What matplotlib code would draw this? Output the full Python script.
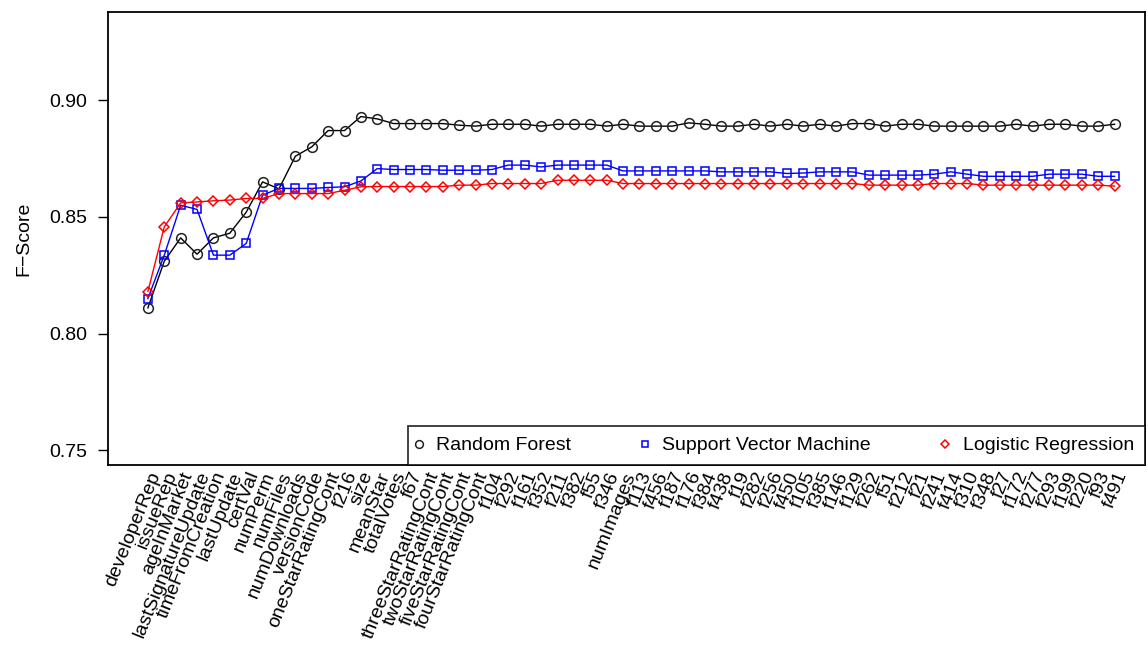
import matplotlib
matplotlib.use('Agg')
import matplotlib.pyplot as plt

plt.rcParams['font.family'] = ['Liberation Sans', 'DejaVu Sans']

# feature names (x axis, in order of addition)
features = ['developerRep', 'issueRep', 'ageInMarket', 'lastSignatureUpdate', 'timeFromCreation',
            'lastUpdate', 'certVal', 'numPerm', 'numFiles', 'numDownloads', 'versionCode',
            'oneStarRatingCont', 'f216', 'size', 'meanStar', 'totalVotes', 'f67',
            'threeStarRatingCont', 'twoStarRatingCont', 'fiveStarRatingCont', 'fourStarRatingCont',
            'f104', 'f292', 'f161', 'f352', 'f211', 'f382', 'f55', 'f346', 'numImages',
            'f113', 'f456', 'f187', 'f176', 'f384', 'f438', 'f19', 'f282', 'f256', 'f450',
            'f105', 'f385', 'f146', 'f129', 'f262', 'f51', 'f212', 'f21', 'f241', 'f414',
            'f310', 'f348', 'f27', 'f172', 'f277', 'f293', 'f199', 'f220', 'f93', 'f491']

rf = [0.811, 0.831, 0.841, 0.834, 0.841, 0.843, 0.852, 0.865, 0.862, 0.876,
      0.880, 0.887, 0.887, 0.893, 0.892, 0.890, 0.890, 0.890, 0.890, 0.8893,
      0.8889, 0.8897, 0.8897, 0.8897, 0.8889, 0.8897, 0.8897, 0.8897, 0.8889, 0.8897,
      0.8889, 0.8889, 0.8889, 0.8903, 0.8897, 0.8889, 0.8889, 0.8897, 0.8889, 0.8897,
      0.8889, 0.8897, 0.8889, 0.8900, 0.8900, 0.8889, 0.8897, 0.8897, 0.8889, 0.8889,
      0.8889, 0.8889, 0.8889, 0.8897, 0.8889, 0.8897, 0.8897, 0.8889, 0.8889, 0.8897]

svm = [0.815, 0.8336, 0.855, 0.8532, 0.8336, 0.8336, 0.8386, 0.8593, 0.8622, 0.8622,
       0.8622, 0.8626, 0.8629, 0.8654, 0.8707, 0.8703, 0.8703, 0.8703, 0.870, 0.870,
       0.870, 0.8703, 0.8722, 0.8722, 0.8714, 0.8722, 0.8722, 0.8722, 0.8722, 0.8697,
       0.8697, 0.8697, 0.8697, 0.8697, 0.8697, 0.8693, 0.8693, 0.8693, 0.8693, 0.8686,
       0.8688, 0.8693, 0.8693, 0.8693, 0.8679, 0.8679, 0.8679, 0.8679, 0.8683, 0.8693,
       0.8683, 0.8674, 0.8674, 0.8674, 0.8674, 0.8683, 0.8683, 0.8683, 0.8674, 0.8674]

lr = [0.818, 0.8457, 0.856, 0.8564, 0.8569, 0.8572, 0.8579, 0.8579, 0.860, 0.860,
      0.860, 0.860, 0.8614, 0.8629, 0.863, 0.863, 0.863, 0.863, 0.863, 0.8636,
      0.8636, 0.8643, 0.8643, 0.8643, 0.8643, 0.8657, 0.8657, 0.8657, 0.8657, 0.8643,
      0.8643, 0.8643, 0.8643, 0.8643, 0.8643, 0.8643, 0.8643, 0.8643, 0.8643, 0.8643,
      0.8643, 0.8643, 0.8643, 0.8643, 0.8636, 0.8636, 0.8636, 0.8636, 0.8643, 0.8643,
      0.8643, 0.8636, 0.8636, 0.8636, 0.8636, 0.8636, 0.8636, 0.8636, 0.8636, 0.8632]

x = list(range(len(features)))

fig = plt.figure(figsize=(11.48, 6.46), dpi=100)
ax = fig.add_axes([0.094, 0.280, 0.903, 0.701])

ax.plot(x, rf, color='black', lw=1, marker='o', ms=7, mfc='none', mec='#222222', mew=1.1,
        label='Random Forest')
ax.plot(x, svm, color='blue', lw=1, marker='s', ms=5.5, mfc='none', mec='blue', mew=1.1,
        label='Support Vector Machine')
ax.plot(x, lr, color='red', lw=1, marker='D', ms=5.5, mfc='none', mec='red', mew=1.1,
        label='Logistic Regression')

ax.set_xlim(-2.44, 60.83)
ax.set_ylim(0.7436, 0.9377)
ax.set_yticks([0.75, 0.80, 0.85, 0.90])
ax.set_yticklabels(['0.75', '0.80', '0.85', '0.90'])
ax.tick_params(axis='y', length=7, width=1, labelsize=14, pad=8)
ax.set_xticks(x)
ax.set_xticklabels(features, rotation=68, ha='right', va='top', rotation_mode='anchor',
                   fontsize=14)
ax.tick_params(axis='x', length=0, pad=3)
for s in ax.spines.values():
    s.set_linewidth(1.3)
ax.set_ylabel('F\u2212Score', fontsize=14, labelpad=12)

leg = ax.legend(loc='lower left', bbox_to_anchor=(0.2893, 0.0, 0.7107, 0.0993), mode='expand',
                ncol=3, fontsize=14, frameon=True, fancybox=False, handlelength=0,
                handletextpad=0.9, borderpad=0.55, borderaxespad=0, markerscale=0.8)
leg.get_frame().set_edgecolor('black')
leg.get_frame().set_linewidth(1.3)
for h in leg.legend_handles:
    h.set_linestyle('none')

fig.savefig('out.png', dpi=100)
